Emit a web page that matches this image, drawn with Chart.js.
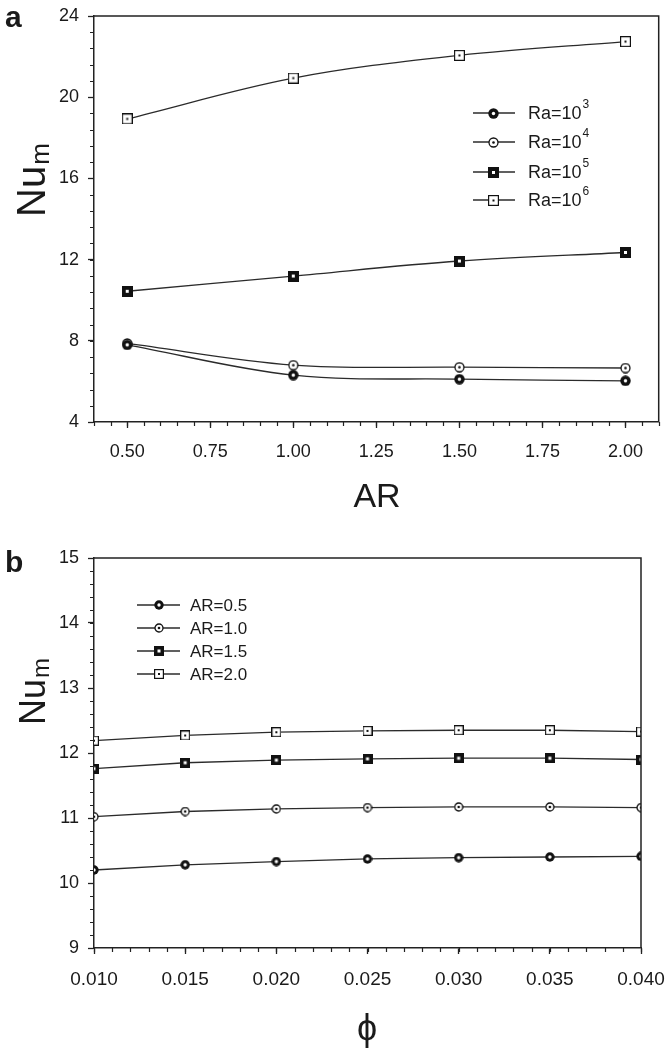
<!DOCTYPE html>
<html>
<head>
<meta charset="utf-8">
<script src="https://cdn.jsdelivr.net/npm/chart.js@4.4.1/dist/chart.umd.min.js"></script>
<style>
    html, body { margin: 0; padding: 0; background: #fff; }
    body { width: 665px; height: 1050px; position: relative; overflow: hidden; }
    .panel { position: absolute; left: 0; width: 665px; }
    #boxA { top: 0; height: 530px; }
    #boxB { top: 530px; height: 520px; }
</style>
</head>
<body>
<div class="panel" id="boxA"><canvas id="chartA" width="665" height="530"></canvas></div>
<div class="panel" id="boxB"><canvas id="chartB" width="665" height="520"></canvas></div>
<script>
// ---- panel a : Nu_m vs AR ----
const arValues = [0.5, 1.0, 1.5, 2.0];
const ra3 = [7.80, 6.31, 6.11, 6.03];
const ra4 = [7.87, 6.80, 6.70, 6.66];
const ra5 = [10.44, 11.19, 11.93, 12.35];
const ra6 = [18.93, 20.94, 22.06, 22.74];
const raExponents = ["3", "4", "5", "6"];
const arTicks = [0.50, 0.75, 1.00, 1.25, 1.50, 1.75, 2.00];
const nuTicksA = [4, 8, 12, 16, 20, 24];

// ---- panel b : Nu_m vs phi ----
const phiValues = [0.010, 0.015, 0.020, 0.025, 0.030, 0.035, 0.040];
const ar05 = [10.20, 10.28, 10.33, 10.37, 10.39, 10.40, 10.41];
const ar10 = [11.02, 11.10, 11.14, 11.16, 11.17, 11.17, 11.16];
const ar15 = [11.76, 11.85, 11.89, 11.91, 11.92, 11.92, 11.90];
const ar20 = [12.19, 12.27, 12.32, 12.34, 12.35, 12.35, 12.33];
const arLabels = ["AR=0.5", "AR=1.0", "AR=1.5", "AR=2.0"];
const phiTicks = [0.010, 0.015, 0.020, 0.025, 0.030, 0.035, 0.040];
const nuTicksB = [9, 10, 11, 12, 13, 14, 15];

const FONT = "'Liberation Sans', Arial, sans-serif";
const INK = "#1a1a1a";
Chart.defaults.font.family = FONT;
Chart.defaults.color = INK;

// small canvases used as point markers (SigmaPlot style symbols)
function makeMarker(kind, size) {
    const c = document.createElement("canvas");
    c.width = size; c.height = size;
    const g = c.getContext("2d");
    const m = size / 2;
    g.fillStyle = "#111";
    g.strokeStyle = "#111";
    if (kind === "boldCircle") {
        g.beginPath(); g.arc(m, m, m - 0.3, 0, Math.PI * 2); g.fill();
        g.fillStyle = "#fff";
        g.beginPath(); g.arc(m, m, 1.7, 0, Math.PI * 2); g.fill();
    } else if (kind === "openCircle") {
        g.lineWidth = 1.3;
        g.fillStyle = "#fff";
        g.beginPath(); g.arc(m, m, m - 1, 0, Math.PI * 2); g.fill(); g.stroke();
        g.fillStyle = "#111";
        g.beginPath(); g.arc(m, m, 1.3, 0, Math.PI * 2); g.fill();
    } else if (kind === "boldSquare") {
        g.fillRect(0, 0, size, size);
        g.fillStyle = "#fff";
        g.fillRect(m - 1.5, m - 1.5, 3, 3);
    } else if (kind === "openSquare") {
        g.fillStyle = "#fff";
        g.fillRect(0, 0, size, size);
        g.lineWidth = 1.2;
        g.strokeRect(0.6, 0.6, size - 1.2, size - 1.2);
        g.fillStyle = "#111";
        g.fillRect(m - 1, m - 1, 2, 2);
    }
    return c;
}

const markerKinds = ["boldCircle", "openCircle", "boldSquare", "openSquare"];

// frame, minor ticks, titles and the legend
const decorPlugin = {
    id: "decor",
    afterDraw(chart, args, opts) {
        const ctx = chart.ctx;
        const area = chart.chartArea;
        const xs = chart.scales.x;
        const ys = chart.scales.y;
        ctx.save();

        // top and right sides of the box
        ctx.strokeStyle = "#222";
        ctx.lineWidth = 1.5;
        ctx.beginPath();
        ctx.moveTo(area.left, area.top);
        ctx.lineTo(area.right, area.top);
        ctx.lineTo(area.right, area.bottom);
        ctx.stroke();

        // minor ticks
        ctx.lineWidth = 1.2;
        const nX = Math.round((xs.max - xs.min) / opts.minorX);
        ctx.beginPath();
        for (let i = 0; i <= nX; i++) {
            const px = Math.round(xs.getPixelForValue(xs.min + i * opts.minorX)) + 0.5;
            ctx.moveTo(px, area.bottom);
            ctx.lineTo(px, area.bottom + 4);
        }
        const nY = Math.round((ys.max - ys.min) / opts.minorY);
        for (let i = 0; i <= nY; i++) {
            const py = Math.round(ys.getPixelForValue(ys.min + i * opts.minorY)) + 0.5;
            ctx.moveTo(area.left, py);
            ctx.lineTo(area.left - 4, py);
        }
        ctx.stroke();

        ctx.fillStyle = INK;

        // panel letter
        ctx.font = "bold 30px " + FONT;
        ctx.textAlign = "left";
        ctx.textBaseline = "alphabetic";
        ctx.fillText(opts.panel.text, opts.panel.x, opts.panel.y);

        // y title, rotated, with subscript
        const yt = opts.yTitle;
        ctx.save();
        ctx.translate(yt.x, yt.y);
        ctx.rotate(-Math.PI / 2);
        ctx.font = yt.size + "px " + FONT;
        ctx.fillText(yt.text, 0, 0);
        const w = ctx.measureText(yt.text).width;
        ctx.font = yt.subSize + "px " + FONT;
        ctx.fillText(yt.sub, w + 1, yt.subShift);
        ctx.restore();

        // x title
        const xt = opts.xTitle;
        ctx.font = xt.size + "px " + FONT;
        ctx.textAlign = "center";
        ctx.fillText(xt.text, xt.x, xt.y);

        // legend
        const lg = opts.legend;
        ctx.textAlign = "left";
        ctx.textBaseline = "middle";
        chart.data.datasets.forEach((ds, i) => {
            const y = lg.rows[i];
            ctx.strokeStyle = ds.borderColor;
            ctx.lineWidth = ds.borderWidth;
            ctx.beginPath();
            ctx.moveTo(lg.x1, y);
            ctx.lineTo(lg.x2, y);
            ctx.stroke();
            const img = ds.pointStyle;
            ctx.drawImage(img, Math.round(lg.xm - img.width / 2), Math.round(y - img.height / 2));
            const parts = ds.label.split("^");
            ctx.font = lg.size + "px " + FONT;
            ctx.fillText(parts[0], lg.xt, y + 1);
            if (parts[1]) {
                const tw = ctx.measureText(parts[0]).width;
                ctx.font = lg.supSize + "px " + FONT;
                ctx.fillText(parts[1], lg.xt + tw + 1, y - lg.supRise);
            }
        });
        ctx.restore();
    }
};

function makeDatasets(labels, series, size, tension) {
    return series.map((vals, i) => ({
        label: labels[i],
        data: vals,
        borderColor: "#2b2b2b",
        borderWidth: 1.3,
        tension: tension,
        pointStyle: makeMarker(markerKinds[i], size),
        pointRadius: 5,
        fill: false
    }));
}

function axis(min, max, majors, fmt, fontSize, pad, fixed, isX) {
    return {
        type: "linear",
        min: min,
        max: max,
        afterBuildTicks: s => { s.ticks = majors.map(v => ({ value: v })); },
        afterFit: s => {
            if (isX) s.height = fixed; else s.width = fixed;
            s.paddingLeft = 0; s.paddingRight = 0; s.paddingTop = 0; s.paddingBottom = 0;
        },
        ticks: {
            callback: v => fmt(v),
            font: { size: fontSize },
            color: INK,
            padding: pad,
            autoSkip: false,
            maxRotation: 0,
            minRotation: 0
        },
        grid: {
            drawOnChartArea: false,
            drawTicks: true,
            tickLength: 6,
            tickColor: "#222",
            tickWidth: 1.3
        },
        border: { color: "#222", width: 1.5 }
    };
}

// ---- chart a ----
const labelsA = raExponents.map(e => "Ra=10^" + e);
new Chart(document.getElementById("chartA"), {
    type: "line",
    data: {
        datasets: makeDatasets(labelsA, [ra3, ra4, ra5, ra6], 11, 0.35)
            .map(ds => ({ ...ds, data: ds.data.map((v, k) => ({ x: arValues[k], y: v })) }))
    },
    options: {
        responsive: false,
        animation: false,
        events: [],
        layout: { padding: { top: 16, right: 5, left: 0, bottom: 0 } },
        scales: {
            x: axis(0.4, 2.1, arTicks, v => v.toFixed(2), 18, 13, 108, true),
            y: axis(4, 24, nuTicksA, v => String(v), 18, 9, 94, false)
        },
        plugins: {
            legend: { display: false },
            tooltip: { enabled: false },
            decor: {
                minorX: 0.05,
                minorY: 0.8,
                panel: { text: "a", x: 5, y: 27 },
                yTitle: { text: "Nu", sub: "m", x: 45, y: 217, size: 40, subSize: 26, subShift: 4 },
                xTitle: { text: "AR", x: 377, y: 507, size: 34 },
                legend: { x1: 473, x2: 515, xm: 493, xt: 528, rows: [113, 142, 172, 200], size: 18, supSize: 12, supRise: 8 }
            }
        }
    },
    plugins: [decorPlugin]
});

// ---- chart b ----
new Chart(document.getElementById("chartB"), {
    type: "line",
    data: {
        datasets: makeDatasets(arLabels, [ar05, ar10, ar15, ar20], 10, 0)
            .map(ds => ({ ...ds, data: ds.data.map((v, k) => ({ x: phiValues[k], y: v })) }))
    },
    options: {
        responsive: false,
        animation: false,
        events: [],
        layout: { padding: { top: 28, right: 24, left: 0, bottom: 0 } },
        scales: {
            x: axis(0.010, 0.040, phiTicks, v => v.toFixed(3), 19, 14, 102, true),
            y: axis(9, 15, nuTicksB, v => String(v), 18, 9, 94, false)
        },
        plugins: {
            legend: { display: false },
            tooltip: { enabled: false },
            decor: {
                minorX: 0.001,
                minorY: 0.2,
                panel: { text: "b", x: 5, y: 42 },
                yTitle: { text: "Nu", sub: "m", x: 45, y: 195, size: 36, subSize: 24, subShift: 4 },
                xTitle: { text: "\u03D5", x: 367, y: 510, size: 36 },
                legend: { x1: 137, x2: 180, xm: 159, xt: 190, rows: [75, 98, 121, 144], size: 17, supSize: 11, supRise: 7 }
            }
        }
    },
    plugins: [decorPlugin]
});
</script>
</body>
</html>
